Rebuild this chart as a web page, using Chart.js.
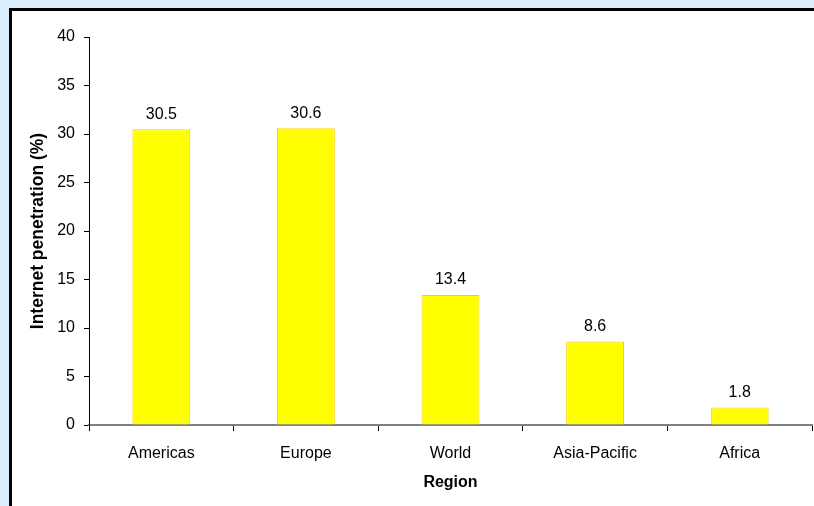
<!DOCTYPE html>
<html>
<head>
<meta charset="utf-8">
<script src="https://cdn.jsdelivr.net/npm/chart.js@4/dist/chart.umd.min.js"></script>
<style>
html,body{margin:0;padding:0;background:#DDEEFF;}
#wrap{position:absolute;left:0;top:0;width:814px;height:506px;}
</style>
</head>
<body>
<div id="wrap"><canvas id="c" width="814" height="506"></canvas></div>
<script>
const categories = ["Americas", "Europe", "World", "Asia-Pacific", "Africa"];
const penetration = [30.5, 30.6, 13.4, 8.6, 1.8];
const yTicks = [0, 5, 10, 15, 20, 25, 30, 35, 40];

const FONT = "'Liberation Sans', Arial, sans-serif";

const framePlugin = {
  id: 'frame',
  beforeDraw(chart) {
    const ctx = chart.ctx;
    ctx.save();
    ctx.fillStyle = '#DDEEFF';
    ctx.fillRect(0, 0, chart.width, chart.height);
    ctx.fillStyle = '#FFFFFF';
    ctx.fillRect(9, 8, chart.width, chart.height);
    ctx.fillStyle = '#000000';
    ctx.fillRect(9, 8, chart.width, 3);
    ctx.fillRect(9, 8, 3, chart.height);
    ctx.restore();
  }
};

const labelPlugin = {
  id: 'valueLabels',
  afterDatasetsDraw(chart) {
    const ctx = chart.ctx;
    const meta = chart.getDatasetMeta(0);
    ctx.save();
    ctx.font = "16px " + FONT;
    ctx.fillStyle = '#000000';
    ctx.textAlign = 'center';
    ctx.textBaseline = 'bottom';
    meta.data.forEach((bar, i) => {
      ctx.fillText(String(penetration[i]), bar.x, bar.y - 7);
    });
    ctx.restore();
  }
};

new Chart(document.getElementById('c'), {
  type: 'bar',
  data: {
    labels: categories,
    datasets: [{
      data: penetration,
      backgroundColor: '#FFFF00',
      borderColor: '#FFCC00',
      borderWidth: 1,
      categoryPercentage: 1.0,
      barPercentage: 0.4
    }]
  },
  options: {
    responsive: false,
    animation: false,
    layout: { padding: { left: 0, right: 2, top: 37, bottom: 0 } },
    plugins: { legend: { display: false }, tooltip: { enabled: false } },
    scales: {
      x: {
        grid: { display: true, drawOnChartArea: false, drawTicks: true, tickLength: 6, color: '#000000', offset: true },
        border: { display: true, color: '#808080', width: 2 },
        ticks: { color: '#000000', font: { family: FONT, size: 16 }, padding: 13, maxRotation: 0 },
        title: { display: true, text: 'Region', color: '#000000', font: { family: FONT, size: 16, weight: 'bold' }, padding: { top: 6, bottom: 14 } },
        afterFit(scale) { scale.height = 81; }
      },
      y: {
        min: 0, max: 40,
        afterBuildTicks(scale) { scale.ticks = yTicks.map(v => ({ value: v })); },
        grid: { display: true, drawOnChartArea: false, drawTicks: true, tickLength: 5, color: '#000000' },
        border: { display: true, color: '#000000', width: 1 },
        ticks: { color: '#000000', font: { family: FONT, size: 16 }, padding: 9 },
        title: { display: true, text: 'Internet penetration (%)', color: '#000000', font: { family: FONT, size: 17.5, weight: 'bold' }, padding: { top: 28, bottom: 0 } },
        afterFit(scale) { scale.width = 89; }
      }
    }
  },
  plugins: [framePlugin, labelPlugin]
});
</script>
</body>
</html>
